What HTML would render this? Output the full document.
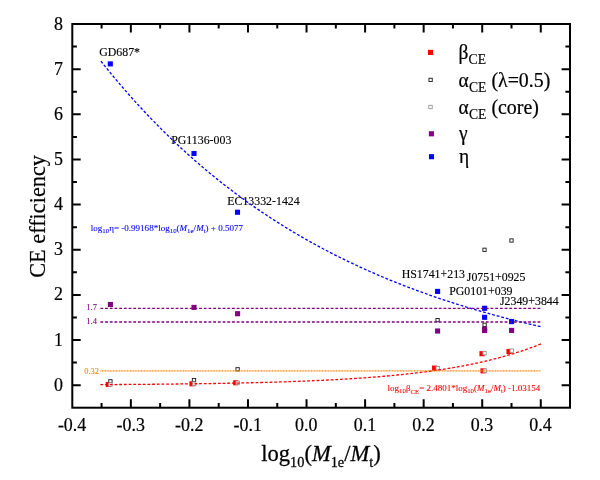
<!DOCTYPE html><html><head><meta charset="utf-8"><style>html,body{margin:0;padding:0;background:#fff;overflow:hidden}svg{display:block;will-change:transform}text{font-family:"Liberation Serif",serif;}</style></head><body>
<svg width="600" height="480" viewBox="0 0 600 480">
<rect width="600" height="480" fill="#fff"/>
<text transform="translate(99.20,56.00) scale(1.0000,1)" font-size="11.85" fill="#000" stroke="#000" stroke-width="0.13" text-anchor="start" >GD687*</text>
<text transform="translate(171.20,144.10) scale(1.0000,1)" font-size="11.85" fill="#000" stroke="#000" stroke-width="0.13" text-anchor="start" >PG1136-003</text>
<text transform="translate(227.30,205.00) scale(1.0000,1)" font-size="11.85" fill="#000" stroke="#000" stroke-width="0.13" text-anchor="start" >EC13332-1424</text>
<text transform="translate(401.70,277.80) scale(1.0000,1)" font-size="11.85" fill="#000" stroke="#000" stroke-width="0.13" text-anchor="start" >HS1741+213</text>
<text transform="translate(466.80,281.10) scale(1.0000,1)" font-size="11.85" fill="#000" stroke="#000" stroke-width="0.13" text-anchor="start" >J0751+0925</text>
<text transform="translate(449.20,294.70) scale(1.0000,1)" font-size="11.85" fill="#000" stroke="#000" stroke-width="0.13" text-anchor="start" >PG0101+039</text>
<text transform="translate(500.00,305.40) scale(1.0000,1)" font-size="11.85" fill="#000" stroke="#000" stroke-width="0.13" text-anchor="start" >J2349+3844</text>
<text transform="translate(86.30,310.40) scale(1.0000,1)" font-size="8.50" fill="#800080" stroke="#800080" stroke-width="0.09" text-anchor="start" >1.7</text>
<text transform="translate(86.30,323.80) scale(1.0000,1)" font-size="8.50" fill="#800080" stroke="#800080" stroke-width="0.09" text-anchor="start" >1.4</text>
<text transform="translate(84.30,373.70) scale(1.0000,1)" font-size="8.40" fill="#ff8000" stroke="#ff8000" stroke-width="0.09" text-anchor="start" >0.32</text>
<rect x="105.75" y="381.95" width="5.10" height="5.10" fill="#ff0000"/>
<rect x="189.45" y="381.25" width="5.10" height="5.10" fill="#ff0000"/>
<rect x="233.15" y="380.20" width="5.10" height="5.10" fill="#ff0000"/>
<rect x="432.05" y="365.55" width="5.10" height="5.10" fill="#ff0000"/>
<rect x="479.45" y="351.15" width="5.10" height="5.10" fill="#ff0000"/>
<rect x="480.45" y="368.30" width="5.10" height="5.10" fill="#ff0000"/>
<rect x="506.45" y="348.95" width="5.10" height="5.10" fill="#ff0000"/>
<rect x="108.75" y="379.65" width="3.30" height="3.30" fill="#fff" stroke="#222" stroke-width="0.95"/>
<rect x="192.35" y="378.45" width="3.30" height="3.30" fill="#fff" stroke="#222" stroke-width="0.95"/>
<rect x="235.95" y="367.65" width="3.30" height="3.30" fill="#fff" stroke="#222" stroke-width="0.95"/>
<rect x="435.95" y="318.45" width="3.30" height="3.30" fill="#fff" stroke="#222" stroke-width="0.95"/>
<rect x="482.85" y="248.15" width="3.30" height="3.30" fill="#fff" stroke="#222" stroke-width="0.95"/>
<rect x="482.95" y="323.15" width="3.30" height="3.30" fill="#fff" stroke="#222" stroke-width="0.95"/>
<rect x="509.85" y="238.85" width="3.30" height="3.30" fill="#fff" stroke="#222" stroke-width="0.95"/>
<rect x="108.70" y="382.90" width="3.40" height="3.40" fill="#fff" stroke="#959595" stroke-width="0.90"/>
<rect x="192.30" y="382.00" width="3.40" height="3.40" fill="#fff" stroke="#959595" stroke-width="0.90"/>
<rect x="236.00" y="381.05" width="3.40" height="3.40" fill="#fff" stroke="#959595" stroke-width="0.90"/>
<rect x="436.00" y="366.50" width="3.40" height="3.40" fill="#fff" stroke="#959595" stroke-width="0.90"/>
<rect x="482.90" y="351.40" width="3.40" height="3.40" fill="#fff" stroke="#959595" stroke-width="0.90"/>
<rect x="483.20" y="368.95" width="3.40" height="3.40" fill="#fff" stroke="#959595" stroke-width="0.90"/>
<rect x="510.05" y="348.95" width="3.40" height="3.40" fill="#fff" stroke="#959595" stroke-width="0.90"/>
<rect x="107.85" y="301.95" width="5.10" height="5.10" fill="#800080"/>
<rect x="191.45" y="304.85" width="5.10" height="5.10" fill="#800080"/>
<rect x="235.05" y="311.15" width="5.10" height="5.10" fill="#800080"/>
<rect x="435.05" y="328.45" width="5.10" height="5.10" fill="#800080"/>
<rect x="482.05" y="326.55" width="5.10" height="5.10" fill="#800080"/>
<rect x="482.05" y="327.95" width="5.10" height="5.10" fill="#800080"/>
<rect x="509.05" y="327.85" width="5.10" height="5.10" fill="#800080"/>
<rect x="107.75" y="61.35" width="5.10" height="5.10" fill="#0000ff"/>
<rect x="191.45" y="150.95" width="5.10" height="5.10" fill="#0000ff"/>
<rect x="234.95" y="209.70" width="5.10" height="5.10" fill="#0000ff"/>
<rect x="435.05" y="288.85" width="5.10" height="5.10" fill="#0000ff"/>
<rect x="482.05" y="305.75" width="5.10" height="5.10" fill="#0000ff"/>
<rect x="482.05" y="314.75" width="5.10" height="5.10" fill="#0000ff"/>
<rect x="509.05" y="319.05" width="5.10" height="5.10" fill="#0000ff"/>
<polyline transform="translate(-0.2,-0.3)" fill="none" stroke="#0000ff" stroke-width="1.3" stroke-dasharray="2.8,1.9" points="101.11,61.43 102.58,63.28 104.05,65.11 105.51,66.94 106.98,68.75 108.45,70.56 109.92,72.36 111.38,74.14 112.85,75.92 114.32,77.68 115.79,79.44 117.25,81.18 118.72,82.91 120.19,84.64 121.66,86.35 123.12,88.06 124.59,89.75 126.06,91.44 127.53,93.12 128.99,94.78 130.46,96.44 131.93,98.09 133.40,99.73 134.86,101.36 136.33,102.97 137.80,104.59 139.27,106.19 140.73,107.78 142.20,109.36 143.67,110.94 145.14,112.50 146.60,114.06 148.07,115.60 149.54,117.14 151.01,118.67 152.47,120.19 153.94,121.70 155.41,123.21 156.88,124.70 158.34,126.19 159.81,127.67 161.28,129.14 162.75,130.60 164.21,132.05 165.68,133.49 167.15,134.93 168.62,136.36 170.08,137.78 171.55,139.19 173.02,140.59 174.49,141.99 175.95,143.38 177.42,144.76 178.89,146.13 180.36,147.49 181.82,148.85 183.29,150.20 184.76,151.54 186.23,152.87 187.69,154.20 189.16,155.52 190.63,156.83 192.10,158.13 193.56,159.43 195.03,160.71 196.50,161.99 197.97,163.27 199.43,164.53 200.90,165.79 202.37,167.05 203.84,168.29 205.30,169.53 206.77,170.76 208.24,171.98 209.71,173.20 211.18,174.41 212.64,175.61 214.11,176.81 215.58,178.00 217.05,179.18 218.51,180.35 219.98,181.52 221.45,182.69 222.92,183.84 224.38,184.99 225.85,186.13 227.32,187.27 228.79,188.40 230.25,189.52 231.72,190.64 233.19,191.75 234.66,192.85 236.12,193.95 237.59,195.04 239.06,196.12 240.53,197.20 241.99,198.28 243.46,199.34 244.93,200.40 246.40,201.46 247.86,202.51 249.33,203.55 250.80,204.59 252.27,205.62 253.73,206.64 255.20,207.66 256.67,208.67 258.14,209.68 259.60,210.68 261.07,211.68 262.54,212.67 264.01,213.65 265.47,214.63 266.94,215.60 268.41,216.57 269.88,217.53 271.34,218.49 272.81,219.44 274.28,220.39 275.75,221.33 277.21,222.26 278.68,223.19 280.15,224.12 281.62,225.04 283.08,225.95 284.55,226.86 286.02,227.76 287.49,228.66 288.95,229.55 290.42,230.44 291.89,231.32 293.36,232.20 294.82,233.08 296.29,233.94 297.76,234.81 299.23,235.66 300.69,236.52 302.16,237.37 303.63,238.21 305.10,239.05 306.56,239.88 308.03,240.71 309.50,241.54 310.97,242.36 312.43,243.17 313.90,243.98 315.37,244.79 316.84,245.59 318.30,246.38 319.77,247.18 321.24,247.96 322.71,248.75 324.17,249.53 325.64,250.30 327.11,251.07 328.58,251.84 330.04,252.60 331.51,253.35 332.98,254.11 334.45,254.85 335.91,255.60 337.38,256.34 338.85,257.07 340.32,257.80 341.78,258.53 343.25,259.25 344.72,259.97 346.19,260.69 347.65,261.40 349.12,262.10 350.59,262.81 352.06,263.50 353.52,264.20 354.99,264.89 356.46,265.57 357.93,266.26 359.39,266.94 360.86,267.61 362.33,268.28 363.80,268.95 365.26,269.61 366.73,270.27 368.20,270.93 369.67,271.58 371.13,272.23 372.60,272.87 374.07,273.51 375.54,274.15 377.00,274.78 378.47,275.41 379.94,276.04 381.41,276.66 382.87,277.28 384.34,277.90 385.81,278.51 387.28,279.12 388.74,279.72 390.21,280.33 391.68,280.93 393.15,281.52 394.61,282.11 396.08,282.70 397.55,283.28 399.02,283.87 400.48,284.44 401.95,285.02 403.42,285.59 404.89,286.16 406.35,286.72 407.82,287.29 409.29,287.85 410.76,288.40 412.22,288.95 413.69,289.50 415.16,290.05 416.63,290.59 418.09,291.13 419.56,291.67 421.03,292.20 422.50,292.73 423.96,293.26 425.43,293.78 426.90,294.31 428.37,294.82 429.83,295.34 431.30,295.85 432.77,296.36 434.24,296.87 435.70,297.37 437.17,297.87 438.64,298.37 440.11,298.87 441.57,299.36 443.04,299.85 444.51,300.34 445.98,300.82 447.44,301.30 448.91,301.78 450.38,302.26 451.85,302.73 453.31,303.20 454.78,303.67 456.25,304.14 457.72,304.60 459.18,305.06 460.65,305.51 462.12,305.97 463.59,306.42 465.05,306.87 466.52,307.32 467.99,307.76 469.46,308.20 470.92,308.64 472.39,309.08 473.86,309.51 475.33,309.95 476.80,310.38 478.26,310.80 479.73,311.23 481.20,311.65 482.67,312.07 484.13,312.49 485.60,312.90 487.07,313.31 488.54,313.72 490.00,314.13 491.47,314.54 492.94,314.94 494.41,315.34 495.87,315.74 497.34,316.14 498.81,316.53 500.28,316.92 501.74,317.31 503.21,317.70 504.68,318.08 506.15,318.47 507.61,318.85 509.08,319.23 510.55,319.60 512.02,319.98 513.48,320.35 514.95,320.72 516.42,321.09 517.89,321.45 519.35,321.82 520.82,322.18 522.29,322.54 523.76,322.90 525.22,323.25 526.69,323.60 528.16,323.96 529.63,324.31 531.09,324.65 532.56,325.00 534.03,325.34 535.50,325.68 536.96,326.02 538.43,326.36 539.90,326.70 541.37,327.03"/>
<polyline fill="none" stroke="#ff0000" stroke-width="1.3" stroke-dasharray="2.8,1.9" points="100.41,384.64 101.88,384.63 103.35,384.62 104.82,384.61 106.29,384.60 107.76,384.60 109.23,384.59 110.70,384.58 112.17,384.57 113.64,384.56 115.11,384.55 116.58,384.54 118.05,384.53 119.52,384.52 120.99,384.51 122.46,384.50 123.93,384.49 125.40,384.48 126.87,384.47 128.34,384.46 129.81,384.45 131.28,384.44 132.75,384.43 134.22,384.42 135.69,384.41 137.16,384.40 138.63,384.38 140.09,384.37 141.56,384.36 143.03,384.35 144.50,384.34 145.97,384.32 147.44,384.31 148.91,384.30 150.38,384.28 151.85,384.27 153.32,384.26 154.79,384.24 156.26,384.23 157.73,384.22 159.20,384.20 160.67,384.19 162.14,384.17 163.61,384.16 165.08,384.14 166.55,384.13 168.02,384.11 169.49,384.10 170.96,384.08 172.43,384.06 173.90,384.05 175.37,384.03 176.84,384.01 178.31,384.00 179.78,383.98 181.25,383.96 182.72,383.94 184.19,383.93 185.66,383.91 187.13,383.89 188.60,383.87 190.07,383.85 191.54,383.83 193.01,383.81 194.48,383.79 195.95,383.77 197.42,383.75 198.89,383.73 200.36,383.71 201.83,383.69 203.30,383.67 204.77,383.64 206.24,383.62 207.71,383.60 209.18,383.58 210.65,383.55 212.12,383.53 213.59,383.50 215.06,383.48 216.53,383.45 218.00,383.43 219.47,383.40 220.94,383.38 222.41,383.35 223.88,383.32 225.35,383.30 226.82,383.27 228.29,383.24 229.76,383.21 231.23,383.19 232.70,383.16 234.17,383.13 235.64,383.10 237.11,383.07 238.58,383.04 240.05,383.00 241.51,382.97 242.98,382.94 244.45,382.91 245.92,382.88 247.39,382.84 248.86,382.81 250.33,382.77 251.80,382.74 253.27,382.70 254.74,382.67 256.21,382.63 257.68,382.59 259.15,382.55 260.62,382.52 262.09,382.48 263.56,382.44 265.03,382.40 266.50,382.36 267.97,382.32 269.44,382.28 270.91,382.23 272.38,382.19 273.85,382.15 275.32,382.10 276.79,382.06 278.26,382.01 279.73,381.97 281.20,381.92 282.67,381.87 284.14,381.83 285.61,381.78 287.08,381.73 288.55,381.68 290.02,381.63 291.49,381.57 292.96,381.52 294.43,381.47 295.90,381.42 297.37,381.36 298.84,381.31 300.31,381.25 301.78,381.19 303.25,381.13 304.72,381.08 306.19,381.02 307.66,380.96 309.13,380.89 310.60,380.83 312.07,380.77 313.54,380.70 315.01,380.64 316.48,380.57 317.95,380.51 319.42,380.44 320.89,380.37 322.36,380.30 323.83,380.23 325.30,380.16 326.77,380.09 328.24,380.01 329.71,379.94 331.18,379.86 332.65,379.78 334.12,379.71 335.59,379.63 337.06,379.55 338.53,379.46 340.00,379.38 341.47,379.30 342.94,379.21 344.40,379.13 345.87,379.04 347.34,378.95 348.81,378.86 350.28,378.77 351.75,378.67 353.22,378.58 354.69,378.48 356.16,378.39 357.63,378.29 359.10,378.19 360.57,378.09 362.04,377.99 363.51,377.88 364.98,377.78 366.45,377.67 367.92,377.56 369.39,377.45 370.86,377.34 372.33,377.22 373.80,377.11 375.27,376.99 376.74,376.87 378.21,376.75 379.68,376.63 381.15,376.51 382.62,376.38 384.09,376.26 385.56,376.13 387.03,376.00 388.50,375.86 389.97,375.73 391.44,375.59 392.91,375.45 394.38,375.31 395.85,375.17 397.32,375.02 398.79,374.88 400.26,374.73 401.73,374.58 403.20,374.42 404.67,374.27 406.14,374.11 407.61,373.95 409.08,373.79 410.55,373.62 412.02,373.46 413.49,373.29 414.96,373.11 416.43,372.94 417.90,372.76 419.37,372.58 420.84,372.40 422.31,372.22 423.78,372.03 425.25,371.84 426.72,371.65 428.19,371.45 429.66,371.25 431.13,371.05 432.60,370.85 434.07,370.64 435.54,370.43 437.01,370.21 438.48,370.00 439.95,369.78 441.42,369.56 442.89,369.33 444.36,369.10 445.82,368.87 447.29,368.63 448.76,368.39 450.23,368.15 451.70,367.91 453.17,367.66 454.64,367.40 456.11,367.15 457.58,366.88 459.05,366.62 460.52,366.35 461.99,366.08 463.46,365.80 464.93,365.52 466.40,365.24 467.87,364.95 469.34,364.66 470.81,364.36 472.28,364.06 473.75,363.76 475.22,363.45 476.69,363.13 478.16,362.81 479.63,362.49 481.10,362.16 482.57,361.83 484.04,361.49 485.51,361.15 486.98,360.80 488.45,360.45 489.92,360.09 491.39,359.73 492.86,359.36 494.33,358.99 495.80,358.61 497.27,358.23 498.74,357.84 500.21,357.45 501.68,357.04 503.15,356.64 504.62,356.23 506.09,355.81 507.56,355.38 509.03,354.95 510.50,354.52 511.97,354.07 513.44,353.62 514.91,353.17 516.38,352.71 517.85,352.24 519.32,351.76 520.79,351.28 522.26,350.79 523.73,350.29 525.20,349.79 526.67,349.28 528.14,348.76 529.61,348.23 531.08,347.70 532.55,347.16 534.02,346.61 535.49,346.05 536.96,345.48 538.43,344.91 539.90,344.33 541.37,343.74"/>
<line x1="100.41" x2="540.78" y1="308.44" y2="308.44" stroke="#800080" stroke-width="1.3" stroke-dasharray="2.8,1.9"/>
<line x1="100.41" x2="540.78" y1="321.99" y2="321.99" stroke="#800080" stroke-width="1.3" stroke-dasharray="2.8,1.9"/>
<line x1="100.41" x2="540.78" y1="370.75" y2="370.75" stroke="#ff8000" stroke-width="1.25" stroke-dasharray="1,0.56"/>
<rect x="72.30" y="24.00" width="497.70" height="383.70" fill="none" stroke="#000" stroke-width="2"/>
<path d="M101.58 407.70V403.10M101.58 24.00V28.60M130.86 407.70V399.30M130.86 24.00V32.40M160.14 407.70V403.10M160.14 24.00V28.60M189.42 407.70V399.30M189.42 24.00V32.40M218.70 407.70V403.10M218.70 24.00V28.60M247.98 407.70V399.30M247.98 24.00V32.40M277.26 407.70V403.10M277.26 24.00V28.60M306.54 407.70V399.30M306.54 24.00V32.40M335.82 407.70V403.10M335.82 24.00V28.60M365.10 407.70V399.30M365.10 24.00V32.40M394.38 407.70V403.10M394.38 24.00V28.60M423.66 407.70V399.30M423.66 24.00V32.40M452.94 407.70V403.10M452.94 24.00V28.60M482.22 407.70V399.30M482.22 24.00V32.40M511.50 407.70V403.10M511.50 24.00V28.60M540.78 407.70V399.30M540.78 24.00V32.40M72.30 385.20H80.70M570.00 385.20H561.60M72.30 362.62H76.90M570.00 362.62H565.40M72.30 340.05H80.70M570.00 340.05H561.60M72.30 317.48H76.90M570.00 317.48H565.40M72.30 294.90H80.70M570.00 294.90H561.60M72.30 272.32H76.90M570.00 272.32H565.40M72.30 249.75H80.70M570.00 249.75H561.60M72.30 227.17H76.90M570.00 227.17H565.40M72.30 204.60H80.70M570.00 204.60H561.60M72.30 182.03H76.90M570.00 182.03H565.40M72.30 159.45H80.70M570.00 159.45H561.60M72.30 136.88H76.90M570.00 136.88H565.40M72.30 114.30H80.70M570.00 114.30H561.60M72.30 91.73H76.90M570.00 91.73H565.40M72.30 69.15H80.70M570.00 69.15H561.60M72.30 46.57H76.90M570.00 46.57H565.40" fill="none" stroke="#000" stroke-width="2"/>
<text transform="translate(72.10,430.70) scale(0.9700,1)" font-size="18.50" fill="#000" stroke="#000" stroke-width="0.21" text-anchor="middle" >-0.4</text>
<text transform="translate(130.66,430.70) scale(0.9700,1)" font-size="18.50" fill="#000" stroke="#000" stroke-width="0.21" text-anchor="middle" >-0.3</text>
<text transform="translate(189.22,430.70) scale(0.9700,1)" font-size="18.50" fill="#000" stroke="#000" stroke-width="0.21" text-anchor="middle" >-0.2</text>
<text transform="translate(247.78,430.70) scale(0.9700,1)" font-size="18.50" fill="#000" stroke="#000" stroke-width="0.21" text-anchor="middle" >-0.1</text>
<text transform="translate(306.34,430.70) scale(0.9700,1)" font-size="18.50" fill="#000" stroke="#000" stroke-width="0.21" text-anchor="middle" >0.0</text>
<text transform="translate(364.90,430.70) scale(0.9700,1)" font-size="18.50" fill="#000" stroke="#000" stroke-width="0.21" text-anchor="middle" >0.1</text>
<text transform="translate(423.46,430.70) scale(0.9700,1)" font-size="18.50" fill="#000" stroke="#000" stroke-width="0.21" text-anchor="middle" >0.2</text>
<text transform="translate(482.02,430.70) scale(0.9700,1)" font-size="18.50" fill="#000" stroke="#000" stroke-width="0.21" text-anchor="middle" >0.3</text>
<text transform="translate(540.58,430.70) scale(0.9700,1)" font-size="18.50" fill="#000" stroke="#000" stroke-width="0.21" text-anchor="middle" >0.4</text>
<text transform="translate(63.00,390.70) scale(0.9700,1)" font-size="18.50" fill="#000" stroke="#000" stroke-width="0.21" text-anchor="end" >0</text>
<text transform="translate(63.00,345.55) scale(0.9700,1)" font-size="18.50" fill="#000" stroke="#000" stroke-width="0.21" text-anchor="end" >1</text>
<text transform="translate(63.00,300.40) scale(0.9700,1)" font-size="18.50" fill="#000" stroke="#000" stroke-width="0.21" text-anchor="end" >2</text>
<text transform="translate(63.00,255.25) scale(0.9700,1)" font-size="18.50" fill="#000" stroke="#000" stroke-width="0.21" text-anchor="end" >3</text>
<text transform="translate(63.00,210.10) scale(0.9700,1)" font-size="18.50" fill="#000" stroke="#000" stroke-width="0.21" text-anchor="end" >4</text>
<text transform="translate(63.00,164.95) scale(0.9700,1)" font-size="18.50" fill="#000" stroke="#000" stroke-width="0.21" text-anchor="end" >5</text>
<text transform="translate(63.00,119.80) scale(0.9700,1)" font-size="18.50" fill="#000" stroke="#000" stroke-width="0.21" text-anchor="end" >6</text>
<text transform="translate(63.00,74.65) scale(0.9700,1)" font-size="18.50" fill="#000" stroke="#000" stroke-width="0.21" text-anchor="end" >7</text>
<text transform="translate(63.00,29.50) scale(0.9700,1)" font-size="18.50" fill="#000" stroke="#000" stroke-width="0.21" text-anchor="end" >8</text>
<text transform="translate(321.00,460.90) scale(0.9800,1)" font-size="23.00" fill="#000" stroke="#000" stroke-width="0.26" text-anchor="middle" >log<tspan font-size="14.6" dy="6">10</tspan><tspan dy="-6">(</tspan><tspan font-style="italic">M</tspan><tspan font-size="14.6" dy="6">1e</tspan><tspan dy="-6">/</tspan><tspan font-style="italic">M</tspan><tspan font-size="14.6" dy="6">t</tspan><tspan dy="-6">)</tspan></text>
<text transform="translate(45,216.4) rotate(-90) scale(0.97,1)" font-size="23" text-anchor="middle" stroke="#000" stroke-width="0.2">CE efficiency</text>
<text transform="translate(90.80,230.90) scale(1.0760,1)" font-size="8.40" fill="#0000ff" stroke="#0000ff" stroke-width="0.09" text-anchor="start" >log<tspan font-size="6.4" dy="2">10</tspan><tspan dy="-2">η= -0.99168*log</tspan><tspan font-size="6.4" dy="2">10</tspan><tspan dy="-2">(</tspan><tspan font-style="italic">M</tspan><tspan font-size="6.4" dy="2">1e</tspan><tspan dy="-2">/</tspan><tspan font-style="italic">M</tspan><tspan font-size="6.4" dy="2">t</tspan><tspan dy="-2">) + 0.5077</tspan></text>
<text transform="translate(387.60,390.60) scale(1.0700,1)" font-size="8.40" fill="#ff0000" stroke="#ff0000" stroke-width="0.09" text-anchor="start" >log<tspan font-size="6.4" dy="2">10</tspan><tspan dy="-2">β</tspan><tspan font-size="6.4" dy="3.4">CE</tspan><tspan dy="-3.4">= 2.4801*log</tspan><tspan font-size="6.4" dy="2">10</tspan><tspan dy="-2">(</tspan><tspan font-style="italic">M</tspan><tspan font-size="6.4" dy="2">1e</tspan><tspan dy="-2">/</tspan><tspan font-style="italic">M</tspan><tspan font-size="6.4" dy="2">t</tspan><tspan dy="-2">) -1.03154</tspan></text>
<rect x="427.95" y="49.85" width="5.10" height="5.10" fill="#ff0000"/>
<rect x="428.95" y="78.25" width="3.30" height="3.30" fill="#fff" stroke="#222" stroke-width="0.95"/>
<rect x="428.80" y="105.30" width="3.40" height="3.40" fill="#fff" stroke="#959595" stroke-width="0.90"/>
<rect x="428.85" y="131.25" width="5.10" height="5.10" fill="#800080"/>
<rect x="428.95" y="154.15" width="5.10" height="5.10" fill="#0000ff"/>
<text transform="translate(458.40,59.00) scale(0.9300,1)" font-size="20.90" fill="#000" stroke="#000" stroke-width="0.23" text-anchor="start" >β</text>
<text transform="translate(468.60,64.10) scale(0.8950,1)" font-size="15.30" fill="#000" stroke="#000" stroke-width="0.17" text-anchor="start" >CE</text>
<text transform="translate(458.50,86.50) scale(0.9300,1)" font-size="20.90" fill="#000" stroke="#000" stroke-width="0.23" text-anchor="start" >α</text>
<text transform="translate(469.00,91.60) scale(0.8950,1)" font-size="15.30" fill="#000" stroke="#000" stroke-width="0.17" text-anchor="start" >CE</text>
<text transform="translate(491.40,86.50) scale(1.0000,1)" font-size="20.90" fill="#000" stroke="#000" stroke-width="0.23" text-anchor="start" textLength="58.9" lengthAdjust="spacingAndGlyphs">(λ=0.5)</text>
<text transform="translate(458.50,113.50) scale(0.9300,1)" font-size="20.90" fill="#000" stroke="#000" stroke-width="0.23" text-anchor="start" >α</text>
<text transform="translate(469.00,118.60) scale(0.8950,1)" font-size="15.30" fill="#000" stroke="#000" stroke-width="0.17" text-anchor="start" >CE</text>
<text transform="translate(491.40,113.50) scale(1.0000,1)" font-size="20.90" fill="#000" stroke="#000" stroke-width="0.23" text-anchor="start" textLength="47.5" lengthAdjust="spacingAndGlyphs">(core)</text>
<text transform="translate(459.00,140.00) scale(0.9300,1)" font-size="20.90" fill="#000" stroke="#000" stroke-width="0.23" text-anchor="start" >γ</text>
<text transform="translate(459.00,163.00) scale(0.9300,1)" font-size="20.90" fill="#000" stroke="#000" stroke-width="0.23" text-anchor="start" >η</text>
</svg></body></html>
